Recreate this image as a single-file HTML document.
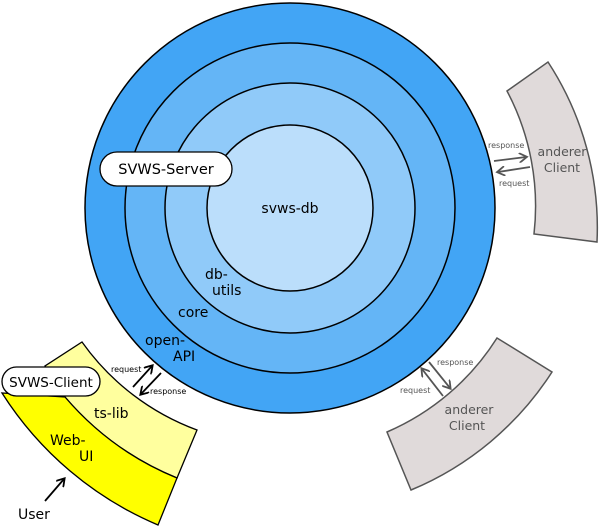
<!DOCTYPE html>
<html><head><meta charset="utf-8"><style>
html,body{margin:0;padding:0;background:#fff;}
svg{display:block;font-family:"DejaVu Sans","Liberation Sans",sans-serif;}
</style></head><body>
<svg width="600" height="526" viewBox="0 0 600 526" xmlns="http://www.w3.org/2000/svg">
<defs>
<marker id="ab" markerWidth="10" markerHeight="10" refX="7" refY="5" orient="auto" markerUnits="userSpaceOnUse"><path d="M0,0 L8,5 L0,10" fill="none" stroke="#000" stroke-width="1.8"/></marker>
<marker id="ag" markerWidth="10" markerHeight="10" refX="7" refY="5" orient="auto" markerUnits="userSpaceOnUse"><path d="M0,0 L8,5 L0,10" fill="none" stroke="#555" stroke-width="1.8"/></marker>
</defs>
<circle cx="290" cy="208" r="205" fill="#42a5f5" stroke="#000" stroke-width="1.5"/>
<circle cx="290" cy="208" r="165" fill="#64b5f6" stroke="#000" stroke-width="1.5"/>
<circle cx="290" cy="208" r="125" fill="#90caf9" stroke="#000" stroke-width="1.5"/>
<circle cx="290" cy="208" r="83" fill="#bbdefb" stroke="#000" stroke-width="1.5"/>
<g font-size="14" fill="#000">
<text x="290" y="213" text-anchor="middle">svws-db</text>
<text x="205" y="279">db-</text><text x="212" y="295">utils</text>
<text x="178" y="317">core</text>
<text x="145" y="345">open-</text><text x="173" y="361">API</text>
</g>
<path d="M507,91 A246,246 0 0 1 534,234 L597,242 A303,303 0 0 0 548,62 Z" fill="#e0dada" stroke="#555" stroke-width="1.5"/>
<text x="562" y="156" font-size="12.5" fill="#555" text-anchor="middle">anderer</text>
<text x="562" y="172" font-size="12.5" fill="#555" text-anchor="middle">Client</text>
<path d="M497,338 A244,244 0 0 1 387,432 L411,490 A308,308 0 0 0 552,372 Z" fill="#e0dada" stroke="#555" stroke-width="1.5"/>
<text x="469" y="414" font-size="12.5" fill="#555" text-anchor="middle">anderer</text>
<text x="467" y="430" font-size="12.5" fill="#555" text-anchor="middle">Client</text>
<g stroke="#555" stroke-width="1.8" fill="none">
<line x1="494" y1="161" x2="526" y2="157" marker-end="url(#ag)"/>
<line x1="530" y1="167" x2="498" y2="172" marker-end="url(#ag)"/>
<line x1="429" y1="362" x2="450" y2="388" marker-end="url(#ag)"/>
<line x1="443" y1="396" x2="422" y2="369" marker-end="url(#ag)"/>
</g>
<g font-size="8" fill="#555">
<text x="488" y="148">response</text>
<text x="499" y="186">request</text>
<text x="437" y="365">response</text>
<text x="400" y="393">request</text>
</g>
<path d="M82,342 A245,245 0 0 0 197,430 L177,478 A293,293 0 0 1 65,397 L45,366 Z" fill="#ffff9e" stroke="#000" stroke-width="1.3"/>
<path d="M2,393 A343,343 0 0 0 158,525 L177,478 A293,293 0 0 1 65,397 Z" fill="#ffff00" stroke="#000" stroke-width="1.3"/>
<g font-size="14" fill="#000">
<text x="94" y="418">ts-lib</text>
<text x="50" y="445">Web-</text><text x="79" y="461">UI</text>
<text x="18" y="519">User</text>
</g>
<g stroke="#000" stroke-width="1.8" fill="none">
<line x1="133" y1="387" x2="152" y2="366" marker-end="url(#ab)"/>
<line x1="161" y1="373" x2="141" y2="394" marker-end="url(#ab)"/>
<line x1="45" y1="501" x2="64" y2="479" marker-end="url(#ab)"/>
</g>
<g font-size="8" fill="#000">
<text x="111" y="372">request</text>
<text x="150" y="394">response</text>
</g>
<rect x="100" y="152" width="132" height="34" rx="17" fill="#fff" stroke="#000" stroke-width="1.3"/>
<text x="166" y="174" font-size="14.5" text-anchor="middle">SVWS-Server</text>
<rect x="2" y="367" width="98" height="29" rx="14.5" fill="#fff" stroke="#000" stroke-width="1.3"/>
<text x="51" y="387" font-size="13.5" text-anchor="middle">SVWS-Client</text>
</svg>
</body></html>
